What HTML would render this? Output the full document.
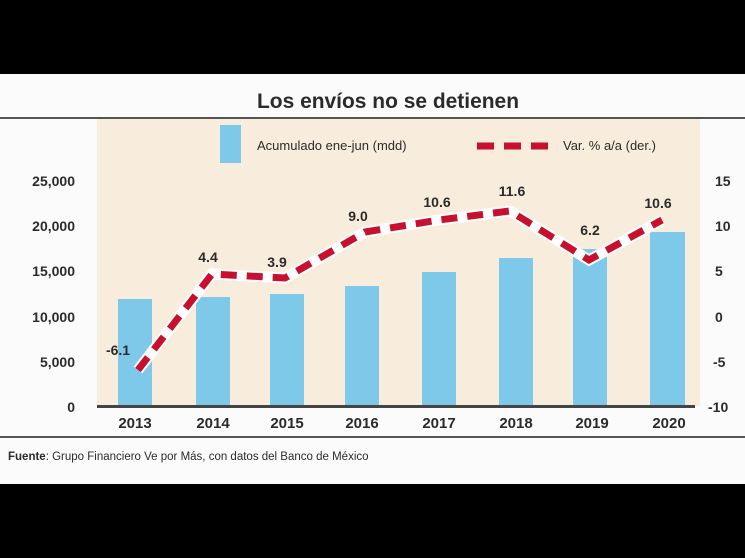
<!DOCTYPE html>
<html><head><meta charset="utf-8"><style>
body{margin:0;background:#000;}
svg{display:block}
text{font-family:"Liberation Sans",sans-serif;font-weight:bold;fill:#2b2b2b}
</style></head><body>
<svg width="745" height="558" viewBox="0 0 745 558">
<rect x="0" y="74" width="745" height="410" fill="#fbfbfb"/>
<text x="388" y="108" font-size="21" text-anchor="middle" textLength="262" lengthAdjust="spacingAndGlyphs">Los envíos no se detienen</text>
<rect x="0" y="117" width="745" height="2" fill="#555"/>
<rect x="97" y="119" width="603" height="287" fill="#f8ecdc"/>
<rect x="220" y="125" width="21" height="38" fill="#7ec8ea"/>
<text x="257" y="150" font-size="13" style="font-weight:normal">Acumulado ene-jun (mdd)</text>
<line x1="477" y1="146" x2="556" y2="146" stroke="#c8102e" stroke-width="7" stroke-dasharray="17,10"/>
<text x="563" y="150" font-size="13" style="font-weight:normal">Var. % a/a (der.)</text>
<g font-size="14">
<text x="75" y="186" text-anchor="end">25,000</text>
<text x="75" y="231" text-anchor="end">20,000</text>
<text x="75" y="276" text-anchor="end">15,000</text>
<text x="75" y="322" text-anchor="end">10,000</text>
<text x="75" y="367" text-anchor="end">5,000</text>
<text x="75" y="412" text-anchor="end">0</text>
<text x="715" y="186">15</text>
<text x="715" y="231">10</text>
<text x="715" y="276">5</text>
<text x="715" y="322">0</text>
<text x="713" y="367">-5</text>
<text x="708" y="412">-10</text>
</g>
<g fill="#7ec8ea">
<rect x="118" y="299" width="34" height="107"/>
<rect x="196" y="297" width="34" height="109"/>
<rect x="270" y="294" width="34" height="112"/>
<rect x="345" y="286" width="34" height="120"/>
<rect x="422" y="272" width="34" height="134"/>
<rect x="499" y="258" width="34" height="148"/>
<rect x="573" y="249" width="34" height="157"/>
<rect x="650" y="232" width="35" height="174"/>
</g>
<rect x="97" y="405" width="598" height="3" fill="#444"/>
<polyline points="138,370 212,274 285,278 365,232 439,220 510,211 589,260 662,220" fill="none" stroke="#fff" stroke-width="11"/>
<polyline points="138,370 212,274 285,278 365,232 439,220 510,211 589,260 662,220" fill="none" stroke="#c8102e" stroke-width="7" stroke-dasharray="16,10"/>
<g font-size="14" text-anchor="middle">
<text x="118" y="355">-6.1</text>
<text x="208" y="262">4.4</text>
<text x="277" y="267">3.9</text>
<text x="358" y="221">9.0</text>
<text x="437" y="207">10.6</text>
<text x="512" y="196">11.6</text>
<text x="590" y="235">6.2</text>
<text x="658" y="208">10.6</text>
</g>
<g font-size="15" text-anchor="middle">
<text x="135" y="428">2013</text><text x="213" y="428">2014</text><text x="287" y="428">2015</text><text x="362" y="428">2016</text><text x="439" y="428">2017</text><text x="516" y="428">2018</text><text x="592" y="428">2019</text><text x="669" y="428">2020</text>
</g>
<rect x="0" y="436" width="745" height="2" fill="#555"/>
<text x="8" y="460" font-size="11.5">Fuente<tspan style="font-weight:normal">: Grupo Financiero Ve por Más, con datos del Banco de México</tspan></text>
</svg>
</body></html>
